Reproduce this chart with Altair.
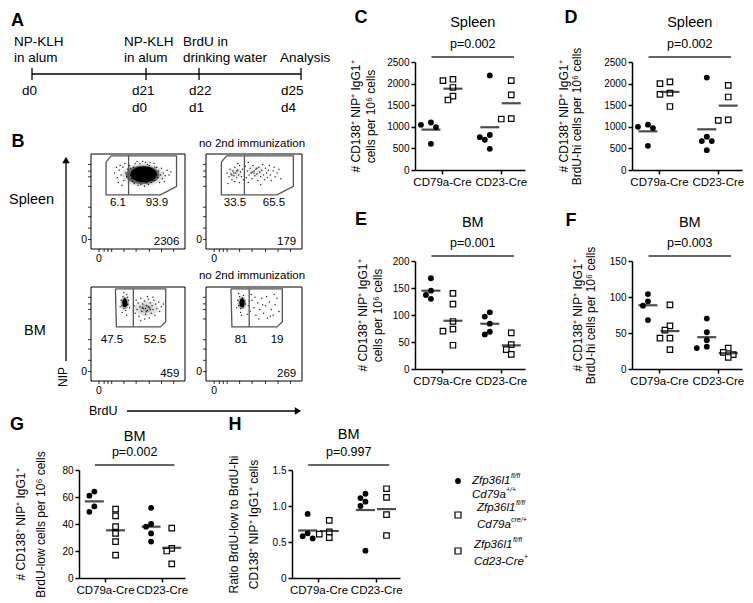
import altair as alt
import numpy as np
import pandas as pd

FONT = "Liberation Sans"
GROUPS = ["CD79a-Cre", "CD23-Cre"]
GENO = ["ctrl", "mut"]  # ctrl = filled circle, mut = open square

# ---------------- values ----------------
c_cd79a_ctrl = [1100, 1045, 990, 605]
c_cd79a_mut = [2100, 2070, 1910, 1710, 1620]
c_cd23_ctrl = [2190, 810, 760, 700, 490]
c_cd23_mut = [2070, 1740, 1190, 1180]

d_cd79a_ctrl = [1050, 1000, 970, 560]
d_cd79a_mut = [2040, 2000, 1780, 1750, 1470]
d_cd23_ctrl = [2140, 770, 670, 670, 460]
d_cd23_mut = [1960, 1690, 1160, 1150]

e_cd79a_ctrl = [168, 145, 137, 130]
e_cd79a_mut = [140, 120, 88, 74, 70, 44]
e_cd23_ctrl = [105, 97, 84, 69, 64]
e_cd23_mut = [67, 45, 36, 27]

f_cd79a_ctrl = [104, 94, 88, 68]
f_cd79a_mut = [89, 60, 54, 43, 43, 27]
f_cd23_ctrl = [70, 51, 40, 31, 29]
f_cd23_mut = [29, 23, 20, 16]

g_cd79a_ctrl = [64, 61, 53, 49]
g_cd79a_mut = [51, 46, 38, 33, 27, 17]
g_cd23_ctrl = [52, 40, 38, 33, 27]
g_cd23_mut = [37, 22, 20, 10.5]

h_cd79a_ctrl = [0.89, 0.62, 0.58, 0.55]
h_cd79a_mut = [0.80, 0.64, 0.61, 0.56]
h_cd23_ctrl = [1.17, 1.11, 1.06, 1.00, 0.38]
h_cd23_mut = [1.24, 1.12, 0.88, 0.59]

YT_C = ["# CD138\u207a NIP\u207a IgG1\u207a", "cells per 10\u2076 cells"]
YT_D = ["# CD138\u207a NIP\u207a IgG1\u207a", "BrdU-hi cells per 10\u2076 cells"]
YT_G = ["# CD138\u207a NIP\u207a IgG1\u207a", "BrdU-low cells per 10\u2076 cells"]
YT_H = ["Ratio BrdU-low to BrdU-hi", "CD138\u207a NIP\u207a IgG1\u207a cells"]

PANELS = {
    "C": dict(title="Spleen", p="p=0.002", ymax=2500, ticks=[0, 500, 1000, 1500, 2000, 2500], ytitle=YT_C,
              vals={("CD79a-Cre", "ctrl"): c_cd79a_ctrl, ("CD79a-Cre", "mut"): c_cd79a_mut,
                    ("CD23-Cre", "ctrl"): c_cd23_ctrl, ("CD23-Cre", "mut"): c_cd23_mut}),
    "D": dict(title="Spleen", p="p=0.002", ymax=2500, ticks=[0, 500, 1000, 1500, 2000, 2500], ytitle=YT_D,
              vals={("CD79a-Cre", "ctrl"): d_cd79a_ctrl, ("CD79a-Cre", "mut"): d_cd79a_mut,
                    ("CD23-Cre", "ctrl"): d_cd23_ctrl, ("CD23-Cre", "mut"): d_cd23_mut}),
    "E": dict(title="BM", p="p=0.001", ymax=200, ticks=[0, 50, 100, 150, 200], ytitle=YT_C,
              vals={("CD79a-Cre", "ctrl"): e_cd79a_ctrl, ("CD79a-Cre", "mut"): e_cd79a_mut,
                    ("CD23-Cre", "ctrl"): e_cd23_ctrl, ("CD23-Cre", "mut"): e_cd23_mut}),
    "F": dict(title="BM", p="p=0.003", ymax=150, ticks=[0, 50, 100, 150], ytitle=YT_D,
              vals={("CD79a-Cre", "ctrl"): f_cd79a_ctrl, ("CD79a-Cre", "mut"): f_cd79a_mut,
                    ("CD23-Cre", "ctrl"): f_cd23_ctrl, ("CD23-Cre", "mut"): f_cd23_mut}),
    "G": dict(title="BM", p="p=0.002", ymax=80, ticks=[0, 20, 40, 60, 80], ytitle=YT_G,
              vals={("CD79a-Cre", "ctrl"): g_cd79a_ctrl, ("CD79a-Cre", "mut"): g_cd79a_mut,
                    ("CD23-Cre", "ctrl"): g_cd23_ctrl, ("CD23-Cre", "mut"): g_cd23_mut}),
    "H": dict(title="BM", p="p=0.997", ymax=1.5, ticks=[0, 0.5, 1.0, 1.5], ytitle=YT_H,
              vals={("CD79a-Cre", "ctrl"): h_cd79a_ctrl, ("CD79a-Cre", "mut"): h_cd79a_mut,
                    ("CD23-Cre", "ctrl"): h_cd23_ctrl, ("CD23-Cre", "mut"): h_cd23_mut}),
}

# schematic (panel A)
tl_events = [["NP-KLH", "in alum"], ["NP-KLH", "in alum"], ["BrdU in", "drinking water"], ["", "Analysis"]]
tl_days = ["d21", "d22", "d25"]
tl_days0 = ["d0"]
tl_days2 = ["d0", "d1", "d4"]

# flow panels (panel B)
flow_counts = ["2306", "179", "459", "269"]
flow_gate_pct = [("6.1", "93.9"), ("33.5", "65.5"), ("47.5", "52.5"), ("81", "19")]
row_labels = ["Spleen", "BM"]
no2nd = "no 2nd immunization"
# gate polygons in plot units (BrdU 0-100, NIP 0-100)
gate_spleen = [(16, 91.5), (21.5, 98), (91, 98), (91, 66), (74, 57), (16, 57), (16, 91.5)]
gate_bm = [(26, 98), (79.5, 98), (79.5, 63), (74, 57.5), (27, 57.5), (26, 98)]
split_spleen = 40
split_bm = 45
# cell events (BrdU, NIP) in plot units
sl_dots = [(25, 80), (28, 75), (30, 83), (32, 78), (34, 86), (35, 72), (37, 80), (38, 76), (39, 84), (40, 70),
           (41, 88), (42, 78), (43, 74), (44, 82), (45, 86), (46, 69), (47, 90), (48, 73), (62, 88), (64, 70),
           (65, 84), (66, 76), (67, 90), (68, 72), (69, 80), (70, 86), (71, 75), (72, 82), (73, 70), (74, 78),
           (75, 85), (76, 74), (77, 80), (79, 77), (81, 83), (58, 91), (55, 92), (50, 67), (57, 66), (61, 68),
           (36, 90), (29, 70), (33, 67), (78, 71), (83, 78), (85, 81), (52, 90), (60, 89), (31, 88), (27, 86),
           (40, 80), (42, 85), (44, 71), (66, 72), (68, 86), (70, 78), (63, 91), (49, 92), (53, 68), (59, 70)]
sr_dots = [(22, 80), (24, 76), (25, 84), (26, 79), (27, 73), (28, 82), (29, 77), (30, 86), (30, 71), (31, 80),
           (32, 75), (33, 83), (34, 78), (35, 88), (35, 70), (36, 81), (37, 76), (38, 84), (39, 73), (40, 79),
           (41, 87), (42, 75), (43, 82), (44, 70), (45, 78), (46, 85), (47, 80), (48, 74), (49, 88), (50, 82),
           (51, 77), (52, 84), (53, 79), (54, 72), (55, 86), (56, 81), (57, 76), (58, 83), (59, 89), (60, 78),
           (61, 73), (62, 85), (63, 80), (64, 75), (65, 83), (66, 88), (67, 78), (68, 72), (70, 82), (71, 86),
           (72, 76), (74, 80), (76, 84), (78, 74), (33, 90), (44, 91), (57, 68), (23, 69), (29, 80), (32, 82),
           (50, 80), (53, 85), (27, 78), (48, 81)]
bl_dots = [(32, 86), (33, 80), (34, 90), (35, 77), (36, 88), (37, 75), (38, 92), (39, 81), (33, 73), (40, 86),
           (31, 79), (38, 70), (35, 94), (41, 78), (34, 84), (37, 85), (39, 89),
           (46, 80), (47, 72), (48, 86), (49, 76), (50, 83), (51, 69), (52, 79), (53, 88), (54, 74), (55, 82),
           (56, 77), (57, 85), (58, 71), (59, 80), (60, 75), (61, 87), (62, 78), (63, 83), (64, 72), (65, 80),
           (66, 76), (67, 86), (68, 70), (69, 82), (70, 77), (72, 84), (73, 74), (75, 79), (77, 82), (57, 66),
           (62, 67), (53, 64), (60, 90), (66, 89), (45, 75), (55, 78), (58, 77), (61, 79), (59, 74), (63, 76)]
br_dots = [(33, 86), (34, 80), (35, 90), (36, 77), (38, 88), (39, 79), (40, 85), (36, 73), (41, 82), (34, 93),
           (32, 78), (39, 91), (37, 70),
           (44, 80), (46, 74), (48, 86), (50, 78), (52, 70), (54, 83), (56, 76), (58, 88), (60, 72), (62, 80),
           (64, 67), (66, 84), (68, 76), (70, 70), (72, 81), (74, 88), (76, 74), (47, 92), (55, 66), (63, 90),
           (43, 71), (51, 89), (67, 69), (71, 92), (59, 81), (45, 85)]

# legend
legend_gene = ["Zfp36l1", "Zfp36l1", "Zfp36l1"]
legend_gene_sup = ["fl/fl", "fl/fl", "fl/fl"]
legend_allele = ["Cd79a", "Cd79a", "Cd23-Cre"]
legend_allele_sup = ["+/+", "cre/+", "+"]

# ---------------- layout ----------------
PLOT_H = 108
BASE = {("CD79a-Cre", "ctrl"): 1.45, ("CD79a-Cre", "mut"): 3.45,
        ("CD23-Cre", "ctrl"): 6.8, ("CD23-Cre", "mut"): 8.75}
TICKS_X = [2.45, 7.8]
PLAYOUT = {  # width, letter dx, letter dy, title dy, titlePadding, title line height
    "C": (110, -54, -44, -39, 9, 15),
    "D": (110, -61, -44, -39, 20, 13),
    "E": (110, -54, -41, -38, 8, 15),
    "F": (110, -61, -40, -38, 12, 13),
    "G": (106, -62, -45, -33, 14, 20),
    "H": (108, -57, -45, -35, 12, 20),
}


def dodge(vals, ymax, H, W, step=5.0, mind=5.6):
    order = sorted(range(len(vals)), key=lambda i: -vals[i])
    placed, offs = [], [0.0] * len(vals)
    for i in order:
        yp = vals[i] / ymax * H
        xp = 0.0
        for k in [0, -1, 1, -2, 2, -3, 3]:
            xp = k * step
            if all((xp - a) ** 2 + (yp - b) ** 2 >= mind ** 2 for a, b in placed):
                break
        placed.append((xp, yp))
        offs[i] = xp * 10.0 / W
    return offs


def panel(key):
    spec = PANELS[key]
    W, ldx, ldy, tdy, tpad, tlh = PLAYOUT[key]
    ymax = spec["ymax"]
    pts = []
    means = []
    for g in GROUPS:
        for k in GENO:
            vals = spec["vals"][(g, k)]
            offs = dodge(vals, ymax, PLOT_H, W)
            for v, o in zip(vals, offs):
                pts.append({"x": BASE[(g, k)] + o, "v": v, "geno": k})
            means.append({"x": BASE[(g, k)], "v": float(np.mean(vals)), "geno": k})
    df = pd.DataFrame(pts)
    dm = pd.DataFrame(means)

    if key == "H":
        ylab = "datum.value == 0 ? '0' : format(datum.value, '.1f')"
    else:
        ylab = "format(datum.value, 'd')"
    xaxis = alt.Axis(values=TICKS_X, labelExpr="datum.value < 5 ? 'CD79a-Cre' : 'CD23-Cre'", title=None,
                     grid=False, domainColor="black", domainWidth=1.5, tickColor="black", tickWidth=1.5,
                     tickSize=4, labelFont=FONT, labelFontSize=11.5, labelColor="black", labelPadding=2,
                     labelFlush=False)
    yaxis = alt.Axis(values=spec["ticks"], labelExpr=ylab, title=spec["ytitle"], grid=False,
                     domainColor="black", domainWidth=1.5, tickColor="black", tickWidth=1.5, tickSize=4,
                     labelFont=FONT, labelFontSize=10, labelColor="black", labelPadding=2,
                     titleFont=FONT, titleFontSize=12, titleFontWeight="normal", titleColor="black",
                     titlePadding=tpad, titleLineHeight=tlh)
    X = alt.X("x:Q", scale=alt.Scale(domain=[0, 10], nice=False, zero=False), axis=xaxis)
    Y = alt.Y("v:Q", scale=alt.Scale(domain=[0, ymax], nice=False, zero=True), axis=yaxis)

    circles = alt.Chart(df[df.geno == "ctrl"]).mark_point(
        shape="circle", filled=True, color="black", size=34, opacity=1).encode(x=X, y=Y)
    squares = alt.Chart(df[df.geno == "mut"]).mark_point(
        shape="square", filled=True, fill="white", stroke="black", strokeWidth=1.2, size=30,
        opacity=1).encode(x=X, y=Y)
    bars = alt.Chart(dm).mark_tick(orient="horizontal", size=19, thickness=2.2, color="black").encode(x=X, y=Y)
    sig = alt.Chart(pd.DataFrame({"x": [1.5], "x2": [9.0]})).mark_rule(
        color="#333333", strokeWidth=1.3).encode(x=X, x2="x2:Q", y=alt.value(-5))
    ttl = alt.Chart(pd.DataFrame({"x": [5.25], "t": [spec["title"]]})).mark_text(
        font=FONT, fontSize=14.5, color="black").encode(x=X, y=alt.value(tdy), text="t:N")
    ptx = alt.Chart(pd.DataFrame({"x": [5.25], "t": [spec["p"]]})).mark_text(
        font=FONT, fontSize=12.5, color="black").encode(x=X, y=alt.value(-18), text="t:N")
    let = alt.Chart(pd.DataFrame({"t": [key]})).mark_text(
        font=FONT, fontSize=18, fontWeight="bold", color="black").encode(
        x=alt.value(ldx), y=alt.value(ldy), text="t:N")
    return alt.layer(circles, squares, bars, sig, ttl, ptx, let).properties(width=W, height=PLOT_H)


PX = dict(scale=None, axis=None)


def texts(rows, **mk):
    df = pd.DataFrame(rows, columns=["x", "y", "t"])
    base = dict(font=FONT, color="black")
    base.update(mk)
    return alt.Chart(df).mark_text(**base).encode(
        x=alt.X("x:Q", **PX), y=alt.Y("y:Q", **PX), text="t:N")


def rules(rows, **mk):
    df = pd.DataFrame(rows, columns=["x", "y", "x2", "y2"])
    return alt.Chart(df).mark_rule(**mk).encode(
        x=alt.X("x:Q", **PX), y=alt.Y("y:Q", **PX), x2="x2:Q", y2="y2:Q")


def points(rows, **mk):
    df = pd.DataFrame(rows, columns=["x", "y"])
    return alt.Chart(df).mark_point(**mk).encode(x=alt.X("x:Q", **PX), y=alt.Y("y:Q", **PX))


def ellipse(r):
    return f"M-1,0A1,{r},0,1,0,1,0A1,{r},0,1,0,-1,0Z"


# ---------- canvas for panels A and B ----------
def ab(xr, yr):
    return xr - 70, yr - 53


def canvas_ab():
    L = []
    T = []
    letters = [("A",) + ab(8.5, 11.5), ("B",) + ab(9, 133)]
    L.append(texts([(x, y, t) for t, x, y in letters], fontSize=18, fontWeight="bold"))
    # timeline
    tick_x = [23, 137, 190, 292]
    R = [ab(23, 65) + ab(292, 65)]
    for tx in tick_x:
        R.append(ab(tx, 59) + ab(tx, 71))
    L.append(rules(R, color="black", strokeWidth=1.3))
    ev_x = [5, 115, 174, 271]
    for (l1, l2), ex in zip(tl_events, ev_x):
        if l1:
            T.append(ab(ex, 33) + (l1,))
        T.append(ab(ex, 49) + (l2,))
    T.append(ab(13, 82) + (tl_days0[0],))
    for d1, d2, dx in zip(tl_days, tl_days2, [123, 180, 272]):
        T.append(ab(dx, 82) + (d1,))
        T.append(ab(dx, 99) + (d2,))
    L.append(texts(T, fontSize=13.5, align="left"))

    # flow plots
    boxes = {"SL": (82, 145, 94, 95), "SR": (197, 145, 96, 95), "BL": (82, 278, 94, 94), "BR": (197, 278, 96, 94)}
    keys = ["SL", "SR", "BL", "BR"]
    dots = {"SL": sl_dots, "SR": sr_dots, "BL": bl_dots, "BR": br_dots}

    def U(k, u, v):
        bx, by, bw, bh = boxes[k]
        return ab(bx + u * bw / 100.0, by + bh - v * bh / 100.0)

    frames = []
    ticks = []
    gates = []
    gate_rows = []
    for k in keys:
        bx, by, bw, bh = boxes[k]
        frames.append(ab(bx, by) + ab(bx + bw, by + bh))
        for v in [10, 22, 34, 44, 66, 76, 82, 89]:
            x0, y0 = U(k, 0, v)
            ticks.append((x0 - 3, y0, x0, y0))
        for u in [8.5, 14, 18, 22, 35, 48, 62, 75, 88]:
            x0, y0 = U(k, u, 0)
            ticks.append((x0, y0, x0, y0 + 3))
        poly = gate_spleen if k[0] == "S" else gate_bm
        split = split_spleen if k[0] == "S" else split_bm
        for i, (u, v) in enumerate(poly):
            x, y = U(k, u, v)
            gate_rows.append({"x": x, "y": y, "g": k, "i": i})
        top = max(v for _, v in poly)
        bot = min(v for _, v in poly)
        gates.append(U(k, split, top) + U(k, split, bot))
    fr = pd.DataFrame(frames, columns=["x", "y", "x2", "y2"])
    L.append(alt.Chart(fr).mark_rect(fill="white", stroke="black", strokeWidth=1).encode(
        x=alt.X("x:Q", **PX), y=alt.Y("y:Q", **PX), x2="x2:Q", y2="y2:Q"))
    L.append(rules(ticks, color="black", strokeWidth=0.8))
    # dense event regions
    blobs = [("SL", 55, 78, 44, 0.55, "#999999", 0.3), ("SL", 55, 78, 36, 0.55, "#333333", 0.7),
             ("SL", 56, 78.5, 28, 0.6, "black", 1.0),
             ("BL", 59, 77, 26, 0.6, "#aaaaaa", 0.35), ("BL", 58, 77, 13, 0.7, "#777777", 0.4),
             ("BL", 36, 83, 9, 1.5, "#666666", 0.5), ("BL", 36, 83, 5.5, 1.7, "black", 1.0),
             ("BR", 37.5, 83, 9, 1.5, "#666666", 0.5), ("BR", 37.5, 83, 5.5, 1.7, "black", 1.0),
             ("SR", 31, 80, 14, 0.7, "#aaaaaa", 0.25), ("SR", 52, 82, 16, 0.7, "#aaaaaa", 0.25)]
    for k, u, v, wu, r, col, op in blobs:
        bw = boxes[k][2]
        L.append(points([U(k, u, v)], shape=ellipse(r), filled=True, color=col, opacity=op,
                        size=(wu * bw / 100.0) ** 2, strokeWidth=0))
    drows = []
    for k in keys:
        for u, v in dots[k]:
            drows.append(U(k, u, v))
    L.append(alt.Chart(pd.DataFrame(drows, columns=["x", "y"])).mark_circle(
        size=2.2, color="black", opacity=0.85).encode(x=alt.X("x:Q", **PX), y=alt.Y("y:Q", **PX)))
    gdf = pd.DataFrame(gate_rows)
    L.append(alt.Chart(gdf).mark_line(color="#555555", strokeWidth=1.3).encode(
        x=alt.X("x:Q", **PX), y=alt.Y("y:Q", **PX), detail="g:N", order="i:Q"))
    L.append(rules(gates, color="#555555", strokeWidth=1.3))

    # numbers in flow plots
    pct_pos = {"SL": (28.7, 70.2, 48.4), "SR": (30.2, 70.8, 48.4), "BL": (22.3, 68.1, 43.6), "BR": (36.5, 74, 43.6)}
    N = []
    C = []
    Z = []
    for k, cnt, (a, b) in zip(keys, flow_counts, flow_gate_pct):
        ua, ub, vv = pct_pos[k]
        N.append(U(k, ua, vv) + (a,))
        N.append(U(k, ub, vv) + (b,))
        C.append(U(k, 94, 7) + (cnt,))
        x0, y0 = U(k, 0, 9.5)
        Z.append((x0 - 4, y0, "0"))
    L.append(texts(N, fontSize=11.5))
    L.append(texts(C, fontSize=11.5, align="right"))
    L.append(texts(Z, fontSize=10.5, align="right"))
    Zb = []
    for k in keys:
        x0, y0 = U(k, 8.5, 0)
        Zb.append((x0, y0 + 10, "0"))
    L.append(texts(Zb, fontSize=10.5))
    L.append(texts([ab(243, 135) + (no2nd,), ab(243, 267) + (no2nd,)], fontSize=11.5))
    L.append(texts([ab(0, 191) + (row_labels[0],), ab(15, 322) + (row_labels[1],)], fontSize=14.5, align="left"))
    # axes arrows
    L.append(rules([ab(57, 154) + ab(57, 352), ab(118, 402) + ab(286, 402)], color="black", strokeWidth=1.3))
    L.append(points([ab(57, 151)], shape="triangle-up", filled=True, color="black", size=55, opacity=1))
    L.append(points([ab(289, 402)], shape="triangle-right", filled=True, color="black", size=55, opacity=1))
    L.append(texts([ab(54, 368) + ("NIP",)], fontSize=12, angle=270))
    L.append(texts([ab(80, 402) + ("BrdU",)], fontSize=12.5, align="left"))
    return alt.layer(*L).properties(width=198, height=PLOT_H)


def blank(w, h):
    return alt.Chart(pd.DataFrame({"x": [0], "y": [0]})).mark_point(opacity=0).encode(
        x=alt.X("x:Q", **PX), y=alt.Y("y:Q", **PX)).properties(width=w, height=h)


# ---------- legend canvas ----------
def lg(xr, yr):
    return xr - 406, yr - 472


def canvas_legend():
    L = []
    L.append(points([lg(449, 483)], shape="circle", filled=True, color="black", size=34, opacity=1))
    L.append(points([lg(449, 517), lg(449, 553)], shape="square", filled=True, fill="white", stroke="black",
                    strokeWidth=1.2, size=36, opacity=1))
    main_pos = [(463, 483, 463, 497), (468, 510, 468, 527), (465, 547, 465, 564)]
    sup_pos = [(502, 478, 497, 492), (507, 505, 502, 522), (504, 542, 515, 559)]
    M = []
    S = []
    for i in range(3):
        gx, gy, ax, ay = main_pos[i]
        M.append(lg(gx, gy) + (legend_gene[i],))
        M.append(lg(ax, ay) + (legend_allele[i],))
        sgx, sgy, sax, say = sup_pos[i]
        S.append(lg(sgx, sgy) + (legend_gene_sup[i],))
        S.append(lg(sax, say) + (legend_allele_sup[i],))
    L.append(texts(M, fontSize=11.5, fontStyle="italic", align="left"))
    L.append(texts(S, fontSize=7, fontStyle="italic", align="left"))
    return alt.layer(*L).properties(width=202, height=PLOT_H)


cells = [canvas_ab(), blank(1, 1), panel("C"), panel("D"),
         blank(1, 118), blank(1, 1), panel("E"), panel("F"),
         panel("G"), panel("H"), canvas_legend(), blank(1, 1)]

chart = alt.concat(*cells, columns=4, spacing={"row": 91, "column": 15},
                   align="each", bounds="flush").properties(
    padding=0, background="white").configure_view(stroke="transparent")

chart.save("out.html", embed_options={"renderer": "svg", "actions": False})
